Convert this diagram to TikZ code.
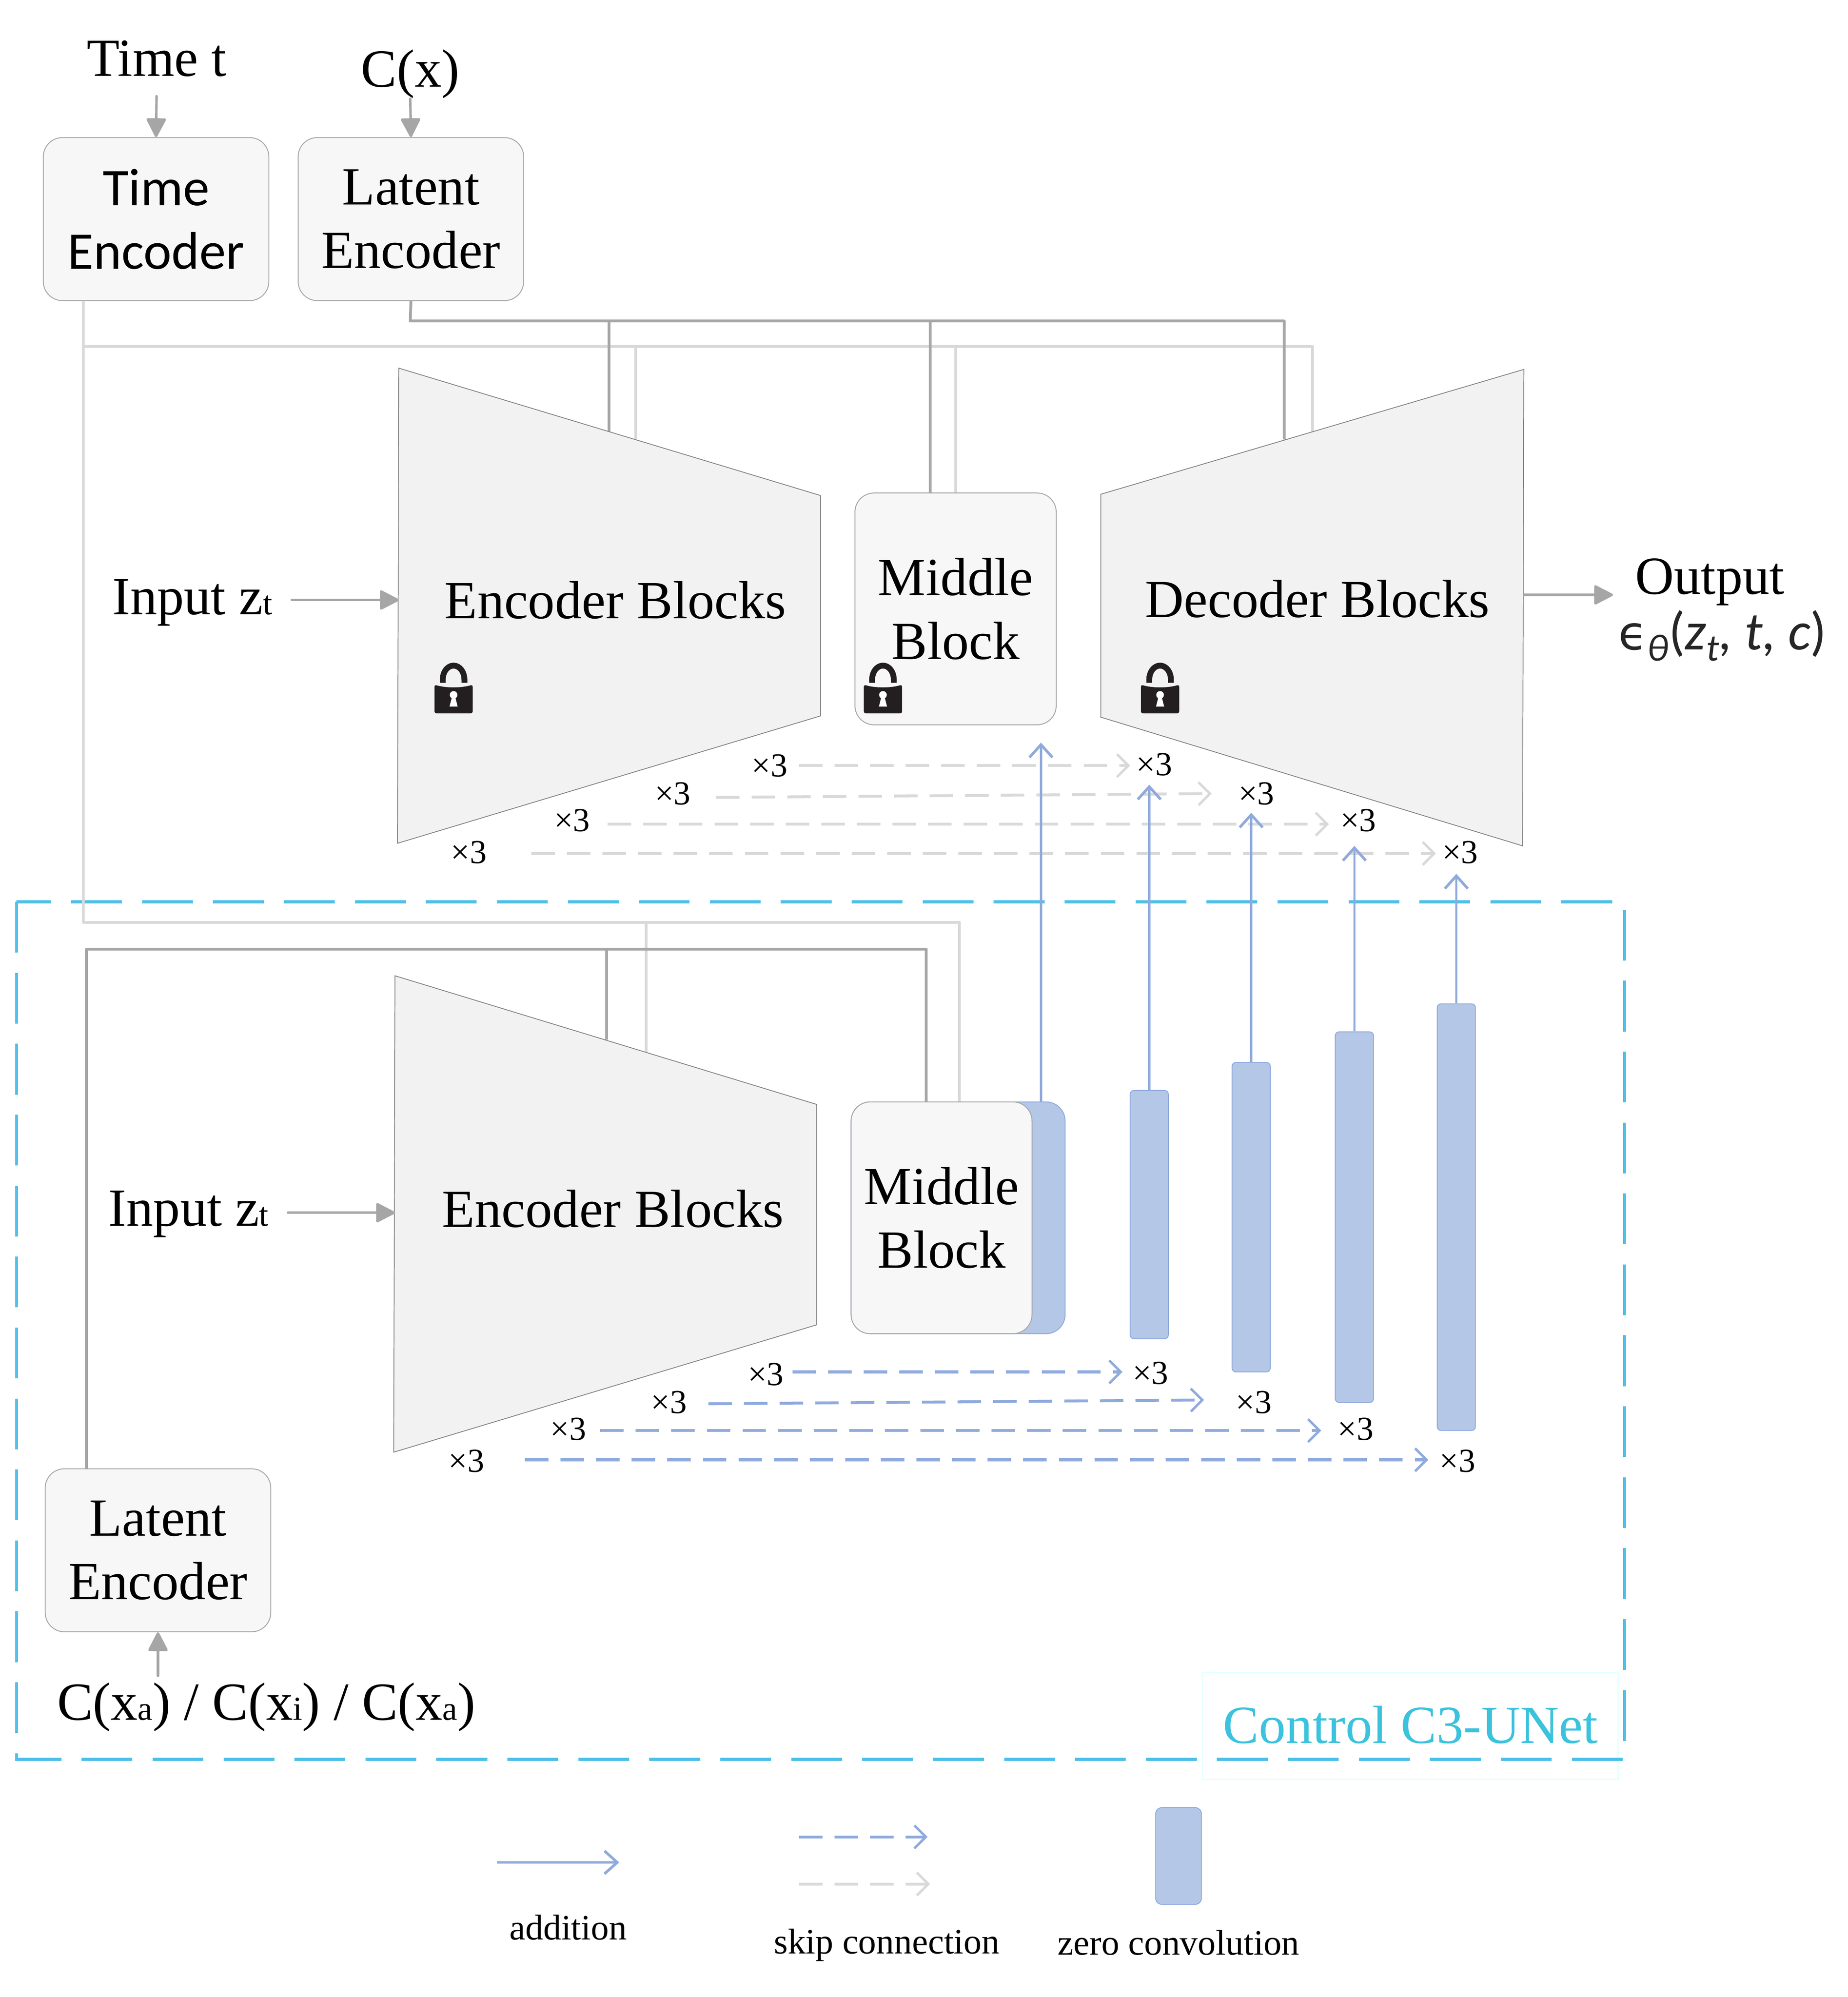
\documentclass[tikz,border=0pt]{standalone}
\usepackage{fontspec}
\setmainfont{Liberation Serif}
\newfontfamily\enc{Carlito}
\newfontfamily\epsfont{DejaVu Sans}
\usetikzlibrary{arrows.meta,backgrounds}
\definecolor{gdark}{HTML}{A6A6A6}
\definecolor{glight}{HTML}{D9D9D9}
\definecolor{bline}{HTML}{8FAADC}
\definecolor{bfill}{HTML}{B4C7E7}
\definecolor{cbox}{HTML}{4FBFE9}
\definecolor{ctext}{HTML}{3BC2DD}
\definecolor{trap}{HTML}{F2F2F2}
\definecolor{blockfill}{HTML}{F7F7F7}
\definecolor{lockc}{HTML}{231F20}
\definecolor{fainted}{HTML}{E3FFFF}
\definecolor{epsc}{HTML}{262626}
\newcommand{\lowsm}[1]{{\fontsize{15}{15}\selectfont #1}}
\tikzset{
 big/.style={inner sep=0pt,font=\fontsize{24}{28.45}\selectfont,align=center},
 tiny3/.style={inner sep=0pt,font=\fontsize{15}{15}\selectfont},
 legendtxt/.style={inner sep=0pt,font=\fontsize{16}{16}\selectfont},
 encblock/.style={draw=gdark,line width=.4pt,fill=blockfill,rounded corners=.3cm,inner sep=0pt,align=center,font=\fontsize{24}{28.45}\selectfont,minimum width=3.54cm,minimum height=2.56cm},
 midblock/.style={draw=gdark,line width=.4pt,fill=blockfill,rounded corners=.3cm,inner sep=0pt,align=center,font=\fontsize{24}{28.45}\selectfont,minimum height=3.64cm},
 trapshape/.style={draw=gray,line width=.35pt,fill=trap},
 grayarrow/.style={draw=gdark,line width=1.1pt,line cap=round,-{Triangle[length=.32cm,width=.32cm,fill=gdark,round=false]}},
 busdark/.style={draw=gdark,line width=1.25pt,line join=round},
 buslight/.style={draw=glight,line width=1.25pt,line join=round},
 addarrow/.style={draw=bline,line width=1pt,-{Straight Barb[length=.2cm,width=.36cm,line width=1.2pt]}},
 skipgray/.style={draw=glight,line width=1.3pt,dash pattern=on 10.5pt off 5.4pt,-{Straight Barb[length=.18cm,width=.36cm,line width=1.1pt]}},
 skipblue/.style={draw=bline,line width=1.3pt,dash pattern=on 10.5pt off 5.4pt,-{Straight Barb[length=.18cm,width=.36cm,line width=1.1pt]}},
 zeroconv/.style={draw=bline,line width=.4pt,fill=bfill,rounded corners=.06cm,inner sep=0pt,minimum width=.6cm},
 lockicon/.pic={
  \draw[lockc,line width=2.6pt] (-8.5,-12) -- (-8.5,-14.5) arc[start angle=180,end angle=360,x radius=8.5,y radius=11] -- (8.5,-12);
  \fill[lockc,rounded corners=.03cm] (-15,12) -- (-15,-10.5) .. controls (-6,-7.8) and (6,-7.8) .. (15,-10.5) -- (15,12) -- cycle;
  \fill[white] (0,-2.5) circle[x radius=3,y radius=3] (-1.5,0) -- (1.5,0) -- (3.2,6.7) -- (-3.2,6.7) -- cycle;
 }
}
\begin{document}
\begin{tikzpicture}[x=0.02cm,y=-0.02cm]
\useasboundingbox (0,0) rectangle (1450.3,1567.7);
% coordinates
\coordinate (eua) at (313,289); \coordinate (eub) at (644,389); \coordinate (euc) at (644,562); \coordinate (eud) at (312,662);
\coordinate (dua) at (1196,290); \coordinate (dub) at (864,388); \coordinate (duc) at (864,563); \coordinate (dud) at (1195,664);
\coordinate (ela) at (310,766); \coordinate (elb) at (641,867); \coordinate (elc) at (641,1040); \coordinate (eld) at (309,1140);
% control box
\coordinate (fa) at (944,1313); \coordinate (fb) at (1270,1397);
\draw[draw=fainted,line width=.5pt] (fa) rectangle (fb);
\coordinate (cba) at (13,708); \coordinate (cbb) at (1275,1381);
\draw[cbox,line width=1.4pt,dash pattern=on 22.7pt off 9pt] (cba) rectangle (cbb);
% encoder boxes
\node[encblock,font=\enc\fontsize{23.7}{28.45}\selectfont] (timeenc) at (122.5,172) {Time\\Encoder};
\node[encblock] (latenc) at (322.5,172) {Latent\\Encoder};
\node[encblock] (latenc2) at (124,1217) {Latent\\Encoder};
% labels
\node[big] (timet) at (123,46) {Time t};
\node[big] (cx) at (322,58) {C(x)};
\node[big] (clabel) at (209,1340) {C(x\lowsm{a}) / C(x\lowsm{i}) / C(x\lowsm{a})};
\draw[grayarrow,shorten <=.3cm] (timet.south) -- (timeenc.north);
\draw[grayarrow] (cx.south) -- (latenc.north);
\draw[grayarrow,shorten <=.1cm] (clabel.north -| latenc2.south) -- (latenc2.south);
% bus lines
\coordinate (timeout) at (65.5,236); \coordinate (timecorner) at (65.5,724); \coordinate (timebus) at (65.5,272);
\coordinate (lbend) at (322,252);
\coordinate (lu1t) at (478,252); \coordinate (lu1b) at (478,339);
\coordinate (lu2t) at (730,252); \coordinate (lu2b) at (730,387);
\coordinate (lu3t) at (1008,252); \coordinate (lu3b) at (1008,345);
\coordinate (tu1t) at (499,272); \coordinate (tu1b) at (499,345);
\coordinate (tu2t) at (750,272); \coordinate (tu2b) at (750,387);
\coordinate (tu3t) at (1030,272); \coordinate (tu3b) at (1030,339);
\coordinate (tl1t) at (507,724); \coordinate (tl1b) at (507,826);
\coordinate (tl2t) at (753,724); \coordinate (tl2b) at (753,865);
\coordinate (ll0) at (68,1153); \coordinate (ll0c) at (68,745);
\coordinate (ll1t) at (476,745); \coordinate (ll1b) at (476,816);
\coordinate (ll2t) at (727,745); \coordinate (ll2b) at (727,865);
\draw[buslight] (timeout) -- (timecorner) -- (tl2t) -- (tl2b);
\draw[buslight] (timebus) -- (tu3t) -- (tu3b);
\draw[buslight] (tu1t) -- (tu1b);
\draw[buslight] (tu2t) -- (tu2b);
\draw[buslight] (tl1t) -- (tl1b);
\draw[busdark] (latenc.south) -- (lbend) -- (lu3t) -- (lu3b);
\draw[busdark] (lu1t) -- (lu1b);
\draw[busdark] (lu2t) -- (lu2b);
\draw[busdark] (ll0) -- (ll0c) -- (ll2t) -- (ll2b);
\draw[busdark] (ll1t) -- (ll1b);
% upper blocks
\draw[trapshape] (eua) -- (eub) -- (euc) -- (eud) -- cycle;
\draw[trapshape] (dua) -- (dub) -- (duc) -- (dud) -- cycle;
\node[big] (enctxt) at (483,471) {Encoder Blocks};
\node[big] (dectxt) at (1034,470) {Decoder Blocks};
\node[midblock,minimum width=3.16cm] (midu) at (750,478) {Middle\\Block};
\pic at (356,548) {lockicon};
\pic at (693,548) {lockicon};
\pic at (910.5,548) {lockicon};
\node[big] (inu) at (151,473) {Input z\lowsm{t}};
\coordinate (inuend) at (229,471); \coordinate (enuin) at (313,471);
\draw[grayarrow] (inuend) -- (enuin);
\coordinate (decout) at (1196,467); \coordinate (outtip) at (1266,467);
\draw[grayarrow] (decout) -- (outtip);
\node[big] (outtxt) at (1342,457) {Output};
\node[inner sep=0pt,text=epsc,font=\enc\fontsize{24}{24}\selectfont] (eps) at (1352,499) {{\epsfont\fontsize{21}{21}\selectfont ϵ}\raisebox{-5pt}{\itshape\fontsize{17}{17}\selectfont θ}(\textit{z}\raisebox{-5pt}{\itshape\fontsize{17}{17}\selectfont t}\textit{, t, c})};
% lower blocks
\draw[trapshape] (ela) -- (elb) -- (elc) -- (eld) -- cycle;
\node[big] (enctxt2) at (481,949) {Encoder Blocks};
\node[midblock,draw=bline,fill=bfill,minimum width=3.36cm] (zc0) at (752,956) {};
\node[midblock,minimum width=2.84cm] (midl) at (739,956) {Middle\\Block};
\node[big] (inl) at (148,953) {Input z\lowsm{t}};
\coordinate (inlend) at (226,952); \coordinate (enlin) at (310,952);
\draw[grayarrow] (inlend) -- (enlin);
% skip arrows gray
\coordinate (sg1a) at (627,601); \coordinate (sg1b) at (887,601);
\coordinate (sg2a) at (562,626); \coordinate (sg2b) at (951,623);
\coordinate (sg3a) at (477,647); \coordinate (sg3b) at (1043,647);
\coordinate (sg4a) at (417,670); \coordinate (sg4b) at (1127,670);
\draw[skipgray] (sg1a) -- (sg1b);
\draw[skipgray] (sg2a) -- (sg2b);
\draw[skipgray] (sg3a) -- (sg3b);
\draw[skipgray] (sg4a) -- (sg4b);
% skip arrows blue
\coordinate (sb1a) at (622,1077); \coordinate (sb1b) at (881,1077);
\coordinate (sb2a) at (556,1102); \coordinate (sb2b) at (945,1099);
\coordinate (sb3a) at (471,1123); \coordinate (sb3b) at (1037,1123);
\coordinate (sb4a) at (412,1146); \coordinate (sb4b) at (1121,1146);
\draw[skipblue] (sb1a) -- (sb1b);
\draw[skipblue] (sb2a) -- (sb2b);
\draw[skipblue] (sb3a) -- (sb3b);
\draw[skipblue] (sb4a) -- (sb4b);
% zero convolutions
\node[zeroconv,minimum height=3.9cm] (zc1) at (902,953.5) {};
\node[zeroconv,minimum height=4.86cm] (zc2) at (982,955.5) {};
\node[zeroconv,minimum height=5.82cm] (zc3) at (1063,955.5) {};
\node[zeroconv,minimum height=6.7cm] (zc4) at (1143,955.5) {};
% addition arrows
\coordinate (a0s) at (817,865); \coordinate (a0e) at (817,583);
\coordinate (a1e) at (902,616); \coordinate (a2e) at (982,638); \coordinate (a3e) at (1063,664); \coordinate (a4e) at (1143,686);
\draw[addarrow] (a0s) -- (a0e);
\draw[addarrow] (zc1.north) -- (a1e);
\draw[addarrow] (zc2.north) -- (a2e);
\draw[addarrow] (zc3.north) -- (a3e);
\draw[addarrow] (zc4.north) -- (a4e);
% x3
\node[tiny3] (u1) at (604,601) {×3}; \node[tiny3] (u2) at (528,623) {×3}; \node[tiny3] (u3) at (449,644) {×3}; \node[tiny3] (u4) at (368,669) {×3};
\node[tiny3] (u5) at (906,600) {×3}; \node[tiny3] (u6) at (986,623) {×3}; \node[tiny3] (u7) at (1066,644) {×3}; \node[tiny3] (u8) at (1146,669) {×3};
\node[tiny3] (l1) at (601,1079) {×3}; \node[tiny3] (l2) at (525,1101) {×3}; \node[tiny3] (l3) at (446,1122) {×3}; \node[tiny3] (l4) at (366,1147) {×3};
\node[tiny3] (l5) at (903,1078) {×3}; \node[tiny3] (l6) at (984,1101) {×3}; \node[tiny3] (l7) at (1064,1122) {×3}; \node[tiny3] (l8) at (1144,1147) {×3};
\node[big,text=ctext] (ctrl) at (1107,1354) {Control C3-UNet};
% legend
\coordinate (leg1a) at (390,1462); \coordinate (leg1b) at (486,1462);
\coordinate (leg2a) at (627,1442); \coordinate (leg2b) at (728,1442);
\coordinate (leg3a) at (627,1479); \coordinate (leg3b) at (730,1479);
\draw[addarrow,line width=1.2pt] (leg1a) -- (leg1b);
\draw[skipblue] (leg2a) -- (leg2b);
\draw[skipgray] (leg3a) -- (leg3b);
\node[zeroconv,minimum width=.72cm,minimum height=1.52cm,rounded corners=.1cm] (legz) at (925,1457) {};
\node[legendtxt] (t1) at (446,1513) {addition};
\node[legendtxt] (t2) at (696,1527) {skip connection};
\node[legendtxt] (t3) at (925,1525) {zero convolution};
\end{tikzpicture}
\end{document}
